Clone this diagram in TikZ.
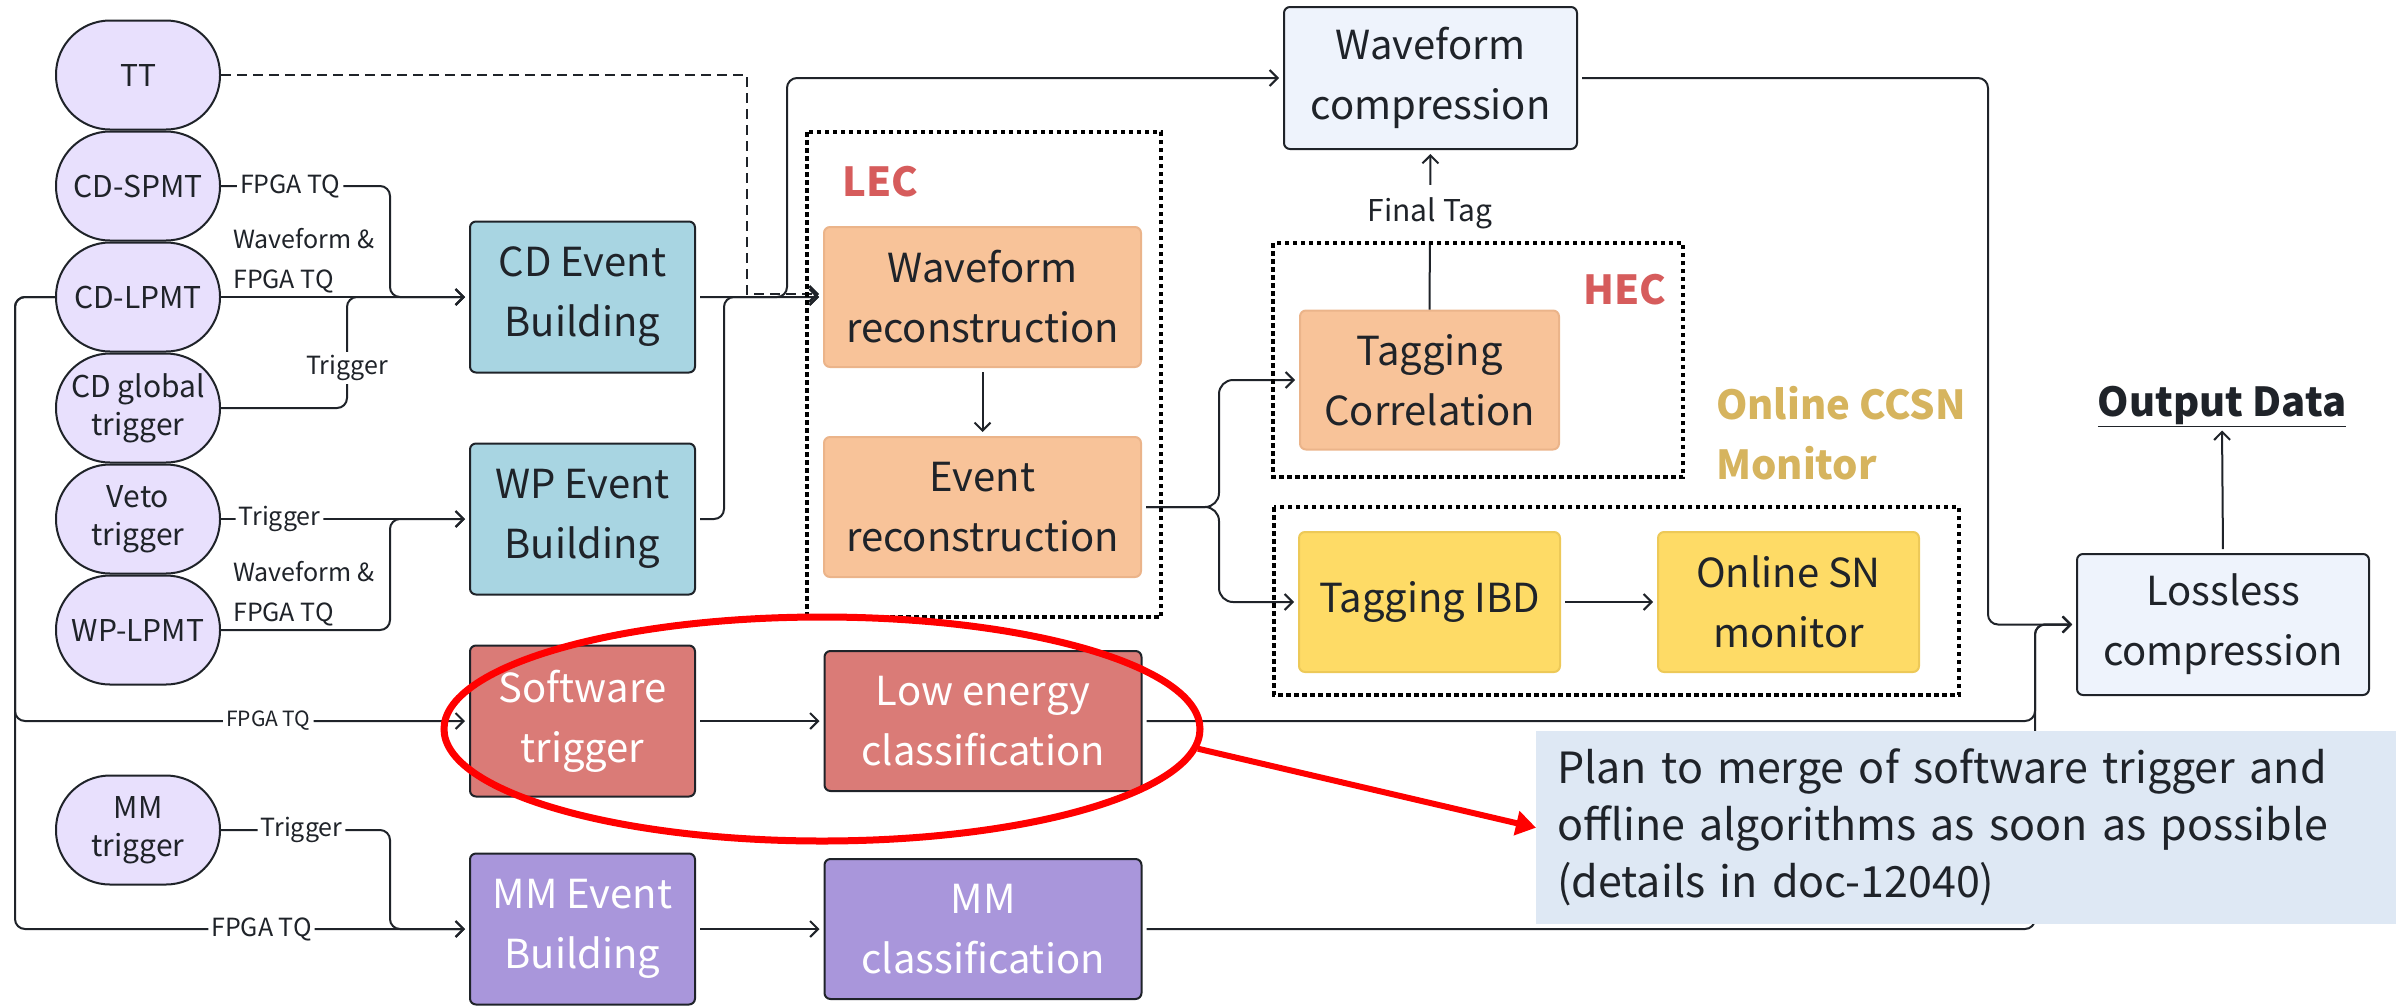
\documentclass[tikz,border=0pt]{standalone}
\usepackage{fontspec}
\setmainfont{Noto Sans CJK SC}
\usetikzlibrary{arrows.meta,shapes.geometric,calc}
\definecolor{lav}{HTML}{E8E0FD}
\definecolor{bluef}{HTML}{A8D5E2}
\definecolor{redf}{HTML}{DA7B77}
\definecolor{purf}{HTML}{A996DB}
\definecolor{oraf}{HTML}{F8C399}
\definecolor{orad}{HTML}{EBB48A}
\definecolor{yelf}{HTML}{FEDB66}
\definecolor{yeld}{HTML}{EDC958}
\definecolor{palef}{HTML}{EEF3FC}
\definecolor{notef}{HTML}{DEE8F4}
\definecolor{txt}{HTML}{1F2329}
\definecolor{lecred}{HTML}{D65C5C}
\definecolor{gold}{HTML}{D6B45E}
\begin{document}
\begin{tikzpicture}[x=1pt,y=-1pt,
  src/.style={draw=txt, line width=2pt, fill=lav, rounded corners=54pt, minimum width=164pt, minimum height=109pt, inner sep=0pt, align=center, text=txt, font=\fontsize{30}{38}\selectfont},
  box/.style={rounded corners=6pt, line width=2pt, minimum height=151pt, minimum width=225pt, inner sep=0pt, align=center, text=txt, font=\fontsize{40}{60}\selectfont},
  bluebox/.style={box, draw=txt, fill=bluef},
  redbox/.style={box, draw=txt, fill=redf, text=white},
  purbox/.style={box, draw=txt, fill=purf, text=white},
  wide/.style={minimum width=317pt, minimum height=140pt},
  orabox/.style={box, draw=orad, fill=oraf},
  yelbox/.style={box, draw=yeld, fill=yelf, minimum width=261pt, minimum height=140pt},
  palebox/.style={box, draw=txt, fill=palef, minimum width=293pt, minimum height=142pt},
  grp/.style={draw=black, line width=4pt, dash pattern=on 4.5pt off 3.5pt},
  conn/.style={draw=txt, line width=2pt, rounded corners=10pt},
  arr/.style={conn, -{Straight Barb[length=8pt,width=16pt]}, shorten >=4pt},
  lbl/.style={fill=white, inner sep=3pt, text=txt, font=\fontsize{25}{38}\selectfont},
  lblsmall/.style={lbl, font=\fontsize{21}{30}\selectfont},
  title/.style={inner sep=0pt, font=\bfseries\fontsize{40}{60}\selectfont}
]
\useasboundingbox (0,0) rectangle (2396,1005);

% sources
\node[src] (TT) at (138,75) {TT};
\node[src] (SPMT) at (138,186) {CD-SPMT};
\node[src] (LPMT) at (138,297) {CD-LPMT};
\node[src] (CDG) at (138,408) {CD global\\trigger};
\node[src] (VETO) at (138,519) {Veto\\trigger};
\node[src] (WPL) at (138,630) {WP-LPMT};
\node[src] (MMT) at (138,830) {MM\\trigger};

% boxes
\node[bluebox] (CDE) at (582.5,297) {CD Event\\Building};
\node[bluebox] (WPE) at (582.5,519) {WP Event\\Building};
\node[redbox] (SWT) at (582.5,721) {Software\\trigger};
\node[purbox] (MME) at (582.5,929) {MM Event\\Building};
\node[orabox, wide] (WR) at (982.5,297) {Waveform\\reconstruction};
\node[orabox, wide] (ER) at (982.5,507) {Event\\reconstruction};
\node[redbox, wide] (LE) at (983,721) {Low energy\\classification};
\node[purbox, wide] (MMC) at (983,929) {MM\\classification};
\node[palebox] (WC) at (1430.5,78) {Waveform\\compression};
\node[orabox, minimum width=259pt, minimum height=139pt] (TC) at (1429.5,380) {Tagging\\Correlation};
\node[yelbox] (TIBD) at (1429.5,602) {Tagging IBD};
\node[yelbox] (OSN) at (1788.5,602) {Online SN\\monitor};
\node[palebox, minimum width=292pt, minimum height=141pt] (LC) at (2223,624.5) {Lossless\\compression};
\node[title, text=txt] (OD) at (2222,406) {\underline{Output Data}};

% labels of groups
\node[title, text=lecred] (LEC) at (880,182) {LEC};
\node[title, text=lecred] (HEC) at (1625,290) {HEC};
\node[title, text=gold, anchor=north west, align=left] (CCSN) at (1716,386) {Online CCSN\\Monitor};

% connectors from sources
\draw[conn, -{Straight Barb[length=8pt,width=16pt]}, shorten >=4pt, rounded corners=0pt, dash pattern=on 10pt off 6pt, line width=2.5pt]
  (TT.east) -- (747,75) -- (747,294) -- ($(WR.west)+(0,-3)$);
\draw[arr] (SPMT.east) -- node[lbl, pos=0.41] {FPGA TQ} (390,186) -- (390,297) -- (CDE.west);
\draw[arr] (LPMT.east) -- (CDE.west);
\node[anchor=south west, align=left, inner sep=0pt, text=txt, font=\fontsize{25}{40}\selectfont] (lab1) at (233,293) {Waveform \&\\FPGA TQ};
\draw[arr] (CDG.east) -- (347,408) -- node[lbl, pos=0.36] {Trigger} (347,297) -- (CDE.west);
\draw[arr] (VETO.east) -- node[lbl, pos=0.236] {Trigger} (WPE.west);
\draw[arr] (WPL.east) -- (390,630) -- (390,519) -- (WPE.west);
\node[anchor=south west, align=left, inner sep=0pt, text=txt, font=\fontsize{25}{40}\selectfont] (lab2) at (233,626) {Waveform \&\\FPGA TQ};
\draw[arr] (LPMT.west) -- (15,297) -- (15,721) -- node[lblsmall, pos=0.558] {FPGA TQ} (SWT.west);
\draw[arr] (LPMT.west) -- (15,297) -- (15,929) -- node[lbl, pos=0.543] {FPGA TQ} (MME.west);
\draw[arr] (MMT.east) -- node[lbl, pos=0.476] {Trigger} (390,830) -- (390,929) -- (MME.west);

% middle connectors
\draw[arr, shorten <=4pt] (CDE.east) -- (WR.west);
\draw[arr, shorten <=4pt] (CDE.east) -- (787,297) -- (787,78) -- (WC.west);
\draw[arr, shorten <=4pt] (WPE.east) -- (724,519) -- (724,297) -- (WR.west);
\draw[arr, shorten <=4pt] (WR.south) -- (ER.north);
\draw[arr, shorten <=4pt, rounded corners=14pt] (ER.east) -- (1219,507) -- (1219,380) -- (TC.west);
\draw[arr, shorten <=4pt, rounded corners=14pt] (ER.east) -- (1219,507) -- (1219,602) -- (TIBD.west);
\draw[arr] (TC.north) -- node[lbl, inner ysep=13pt, pos=0.6, font=\fontsize{30}{36}\selectfont] {Final Tag} (WC.south);
\draw[arr, shorten <=4pt] (TIBD.east) -- (OSN.west);
\draw[arr, shorten <=4pt] (SWT.east) -- (LE.west);
\draw[arr, shorten <=4pt] (MME.east) -- (MMC.west);
\draw[arr, shorten <=4pt] (WC.east) -- (1988,78) -- (1988,624.5) -- (LC.west);
\draw[arr, shorten <=4pt] (LE.east) -- (2035,721) -- (2035,624.5) -- (LC.west);
\draw[arr, shorten <=4pt] (MMC.east) -- (2035,929) -- (2035,624.5) -- (LC.west);
\draw[arr, shorten <=4pt] (LC.north) -- (OD.south);

% group frames
\draw[grp] (807,132) rectangle (1161,617);
\draw[grp] (1273,243) rectangle (1683,477);
\draw[grp] (1274,507) rectangle (1959,695);

% note
\node[anchor=north west, fill=notef, minimum height=193pt, inner xsep=21pt, text width=818pt, align=left, text=txt, font=\fontsize{43}{57}\selectfont] (note) at (1536,731) {Plan to merge of software trigger and\\offline algorithms as soon as possible\\(details in doc-12040)};

% red highlight
\node[ellipse, draw=red, line width=7pt, minimum width=756pt, minimum height=224pt, inner sep=0pt] (circ) at (822,729) {};
\draw[red, line width=6pt, -{Triangle[length=20pt,width=24pt]}] (circ.-3) -- (note.west);
\end{tikzpicture}
\end{document}
